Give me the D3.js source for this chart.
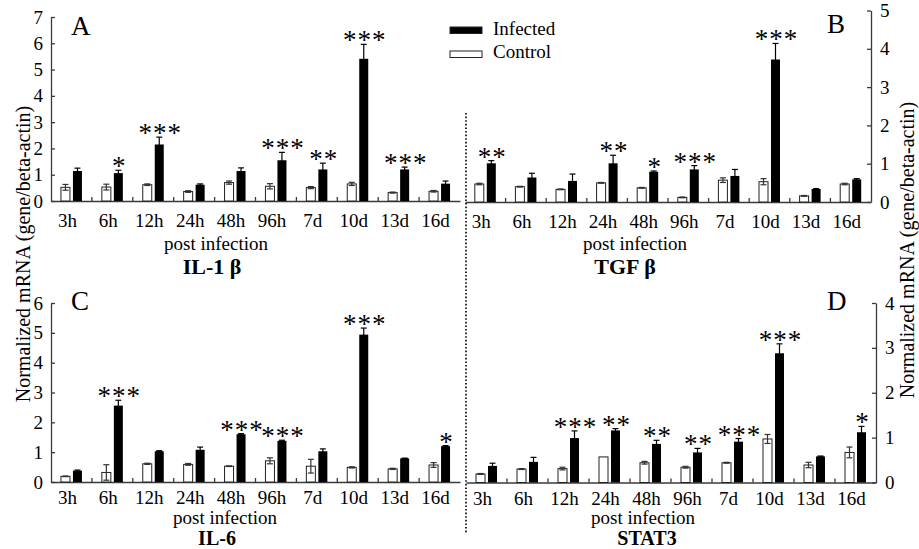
<!DOCTYPE html>
<html><head><meta charset="utf-8">
<script src="https://cdn.jsdelivr.net/npm/d3@7"></script>
<style>
html,body{margin:0;padding:0;background:#fff;}
svg{display:block;}
text{font-family:"Liberation Serif","Times New Roman",serif;fill:#000;}
</style></head>
<body>
<svg id="chart" width="919" height="549"></svg>
<script>
// ---------- DATA ----------
const categories = ["3h","6h","12h","24h","48h","96h","7d","10d","13d","16d"];
const seriesNames = ["Control","Infected"];

const il1bInfected    = [1.14, 1.06, 2.15, 0.62, 1.14, 1.55, 1.20, 5.41, 1.20, 0.66];
const il1bInfectedErr = [0.11, 0.11, 0.28, 0.03, 0.12, 0.30, 0.24, 0.55, 0.09, 0.10];
const il1bControl     = [0.52, 0.53, 0.62, 0.36, 0.70, 0.56, 0.51, 0.65, 0.32, 0.37];
const il1bControlErr  = [0.11, 0.11, 0.03, 0.03, 0.06, 0.10, 0.04, 0.06, 0.02, 0.03];
const il1bStars       = ["", "*", "***", "", "", "***", "**", "***", "***", ""];
const il1bTicks       = [0,1,2,3,4,5,6,7];

const tgfbInfected    = [1.01, 0.64, 0.55, 1.01, 0.79, 0.85, 0.68, 3.72, 0.34, 0.59];
const tgfbInfectedErr = [0.07, 0.11, 0.18, 0.21, 0.02, 0.10, 0.17, 0.42, 0.01, 0.02];
const tgfbControl     = [0.47, 0.40, 0.33, 0.50, 0.37, 0.12, 0.57, 0.53, 0.16, 0.47];
const tgfbControlErr  = [0.02, 0.01, 0.01, 0.01, 0.01, 0.01, 0.06, 0.08, 0.01, 0.02];
const tgfbStars       = ["**", "", "", "**", "*", "***", "", "***", "", ""];
const tgfbTicks       = [0,1,2,3,4,5];

const il6Infected     = [0.38, 2.56, 1.03, 1.08, 1.60, 1.38, 1.03, 4.94, 0.79, 1.20];
const il6InfectedErr  = [0.02, 0.18, 0.02, 0.09, 0.02, 0.02, 0.08, 0.22, 0.01, 0.02];
const il6Control      = [0.19, 0.32, 0.61, 0.59, 0.53, 0.71, 0.53, 0.49, 0.44, 0.57];
const il6ControlErr   = [0.01, 0.26, 0.02, 0.03, 0.01, 0.10, 0.23, 0.02, 0.02, 0.08];
const il6Stars        = ["", "***", "", "", "***", "***", "", "***", "", "*"];
const il6Ticks        = [0,1,2,3,4,5,6];

const stat3Infected    = [0.37, 0.46, 0.99, 1.16, 0.86, 0.67, 0.91, 2.88, 0.58, 1.12];
const stat3InfectedErr = [0.06, 0.10, 0.16, 0.04, 0.08, 0.09, 0.07, 0.21, 0.01, 0.13];
const stat3Control     = [0.19, 0.30, 0.31, 0.57, 0.44, 0.34, 0.44, 0.97, 0.39, 0.67];
const stat3ControlErr  = [0.01, 0.01, 0.03, 0.00, 0.03, 0.02, 0.01, 0.10, 0.06, 0.12];
const stat3Stars       = ["", "", "***", "**", "**", "**", "***", "***", "", "*"];
const stat3Ticks       = [0,1,2,3,4];

const yAxisLabel = "Normalized mRNA (gene/beta-actin)";
const xAxisLabel = "post infection";

// ---------- DRAW ----------
const svg = d3.select("#chart");
const AXIS = "#3a3a3a";
const FONT = 19;

function panel(cfg) {
  const g = svg.append("g");
  const x = d3.scaleBand().domain(categories).range([cfg.x0, cfg.x1]).padding(0);
  const bw = x.bandwidth();
  const sub = d3.scaleBand().domain(seriesNames).range([bw/2 - 10.5, bw/2 + 10.5]).paddingInner(0.25);
  const y = d3.scaleLinear().domain([0, d3.max(cfg.ticks)]).range([cfg.yZero, cfg.yTop]);

  // y axis
  const yAx = (cfg.side === "left" ? d3.axisLeft(y) : d3.axisRight(y))
      .tickValues(cfg.ticks).tickFormat(d3.format("d"))
      .tickSize(-4).tickSizeOuter(0).tickPadding(cfg.side === "left" ? 8 : 9);
  const ya = g.append("g")
     .attr("transform", `translate(${cfg.side === "left" ? cfg.x0 : cfg.x1},0)`)
     .call(yAx);
  ya.selectAll("path,line").attr("stroke", AXIS).attr("stroke-width", 1.3);
  ya.selectAll("text").attr("font-size", FONT).attr("font-family", "Liberation Serif, serif").attr("fill","#000");

  // x axis
  const xAx = d3.axisBottom(x).tickSize(0).tickSizeOuter(0).tickPadding(cfg.xPad);
  const xa = g.append("g").attr("transform", `translate(0,${cfg.yZero})`).call(xAx);
  xa.select("path").attr("stroke", AXIS).attr("stroke-width", 1.3);
  xa.selectAll("text").attr("font-size", FONT).attr("font-family", "Liberation Serif, serif").attr("fill","#000").attr("dx", -4);
  // boundary ticks
  g.append("g").selectAll("line")
    .data(categories.slice(1))
    .join("line")
    .attr("x1", d => x(d)).attr("x2", d => x(d))
    .attr("y1", cfg.yZero).attr("y2", cfg.yZero - 4)
    .attr("stroke", AXIS).attr("stroke-width", 1.3);

  const rows = categories.map((c, i) => ({
    c, i,
    Control: cfg.ctrl[i], ControlErr: cfg.ctrlErr[i],
    Infected: cfg.inf[i], InfectedErr: cfg.infErr[i],
    stars: cfg.stars[i]
  }));

  // control bars
  g.append("g").selectAll("rect").data(rows).join("rect")
    .attr("x", d => x(d.c) + sub("Control"))
    .attr("y", d => y(d.Control))
    .attr("width", sub.bandwidth())
    .attr("height", d => y(0) - y(d.Control))
    .attr("fill", "#fff").attr("stroke", "#222").attr("stroke-width", 1);
  // infected bars
  g.append("g").selectAll("rect").data(rows).join("rect")
    .attr("x", d => x(d.c) + sub("Infected"))
    .attr("y", d => y(d.Infected))
    .attr("width", sub.bandwidth())
    .attr("height", d => y(0) - y(d.Infected))
    .attr("fill", "#000");

  // error bars
  function errBars(key, color) {
    const eg = g.append("g").attr("stroke", color).attr("stroke-width", 1.2).attr("fill", "none");
    rows.forEach(d => {
      const cx = x(d.c) + sub(key) + sub.bandwidth()/2;
      const v = d[key], e = d[key + "Err"];
      if (e <= 0) return;
      const yt = y(v + e), yb = y(Math.max(0, v - e));
      eg.append("line").attr("x1", cx).attr("x2", cx).attr("y1", yb).attr("y2", yt);
      eg.append("line").attr("x1", cx - 3).attr("x2", cx + 3).attr("y1", yt).attr("y2", yt);
      eg.append("line").attr("x1", cx - 3).attr("x2", cx + 3).attr("y1", yb).attr("y2", yb);
    });
  }
  errBars("Control", "#333");
  errBars("Infected", "#000");

  // significance stars
  g.append("g").selectAll("text").data(rows.filter(d => d.stars))
    .join("text")
    .attr("x", d => x(d.c) + sub("Infected") + sub.bandwidth()/2 + 1)
    .attr("y", d => y(d.Infected + d.InfectedErr) + 5)
    .attr("text-anchor", "middle")
    .attr("font-family", "Liberation Sans, Arial, sans-serif")
    .attr("font-size", 27)
    .attr("letter-spacing", 1)
    .text(d => d.stars);

  // panel letter
  g.append("text").attr("x", cfg.letterX).attr("y", cfg.letterY)
    .attr("font-size", 27).text(cfg.letter);

  // x title & gene name
  g.append("text").attr("x", cfg.titleX).attr("y", cfg.yZero + cfg.titleDy)
    .attr("text-anchor", "middle").attr("font-size", FONT).text(xAxisLabel);
  g.append("text").attr("x", cfg.geneX).attr("y", cfg.yZero + cfg.geneDy)
    .attr("text-anchor", "middle").attr("font-size", cfg.geneSize).attr("font-weight", "bold").text(cfg.gene);
}

panel({x0: 51, x1: 460, yZero: 201, yTop: 17, ticks: il1bTicks, side: "left", xPad: 13,
  inf: il1bInfected, infErr: il1bInfectedErr, ctrl: il1bControl, ctrlErr: il1bControlErr, stars: il1bStars,
  letter: "A", letterX: 71, letterY: 35, titleX: 216, titleDy: 49, geneX: 212, geneDy: 73, geneSize: 22, gene: "IL-1 \u03b2"});
panel({x0: 465, x1: 871, yZero: 202, yTop: 10.5, ticks: tgfbTicks, side: "right", xPad: 13,
  inf: tgfbInfected, infErr: tgfbInfectedErr, ctrl: tgfbControl, ctrlErr: tgfbControlErr, stars: tgfbStars,
  letter: "B", letterX: 827, letterY: 33, titleX: 635, titleDy: 48, geneX: 625, geneDy: 72, geneSize: 22, gene: "TGF \u03b2"});
panel({x0: 51, x1: 460, yZero: 482, yTop: 303, ticks: il6Ticks, side: "left", xPad: 9,
  inf: il6Infected, infErr: il6InfectedErr, ctrl: il6Control, ctrlErr: il6ControlErr, stars: il6Stars,
  letter: "C", letterX: 71, letterY: 310, titleX: 225, titleDy: 42, geneX: 217, geneDy: 63, geneSize: 20, gene: "IL-6"});
panel({x0: 466, x1: 876, yZero: 482.5, yTop: 303, ticks: stat3Ticks, side: "right", xPad: 9,
  inf: stat3Infected, infErr: stat3InfectedErr, ctrl: stat3Control, ctrlErr: stat3ControlErr, stars: stat3Stars,
  letter: "D", letterX: 827, letterY: 310, titleX: 643, titleDy: 41.5, geneX: 647, geneDy: 62.5, geneSize: 20, gene: "STAT3"});

// y axis labels
svg.append("text").attr("transform", "translate(30,254) rotate(-90)")
  .attr("text-anchor", "middle").attr("font-size", 20).text(yAxisLabel);
svg.append("text").attr("transform", "translate(914,250) rotate(-90)")
  .attr("text-anchor", "middle").attr("font-size", 20).text(yAxisLabel);

// divider
svg.append("line").attr("x1", 466).attr("x2", 466).attr("y1", 113).attr("y2", 533)
  .attr("stroke", "#000").attr("stroke-width", 1.6).attr("stroke-dasharray", "1.6,2");

// legend
const legend = svg.append("g");
const legendItems = [{name: "Infected", fill: "#000"}, {name: "Control", fill: "#fff"}];
legend.selectAll("rect").data(legendItems).join("rect")
  .attr("x", 450).attr("y", (d, i) => 27 + i * 24).attr("width", 32).attr("height", 6.5)
  .attr("fill", d => d.fill).attr("stroke", "#222").attr("stroke-width", 1);
legend.selectAll("text").data(legendItems).join("text")
  .attr("x", 493).attr("y", (d, i) => 35 + i * 23).attr("font-size", FONT).text(d => d.name);
</script>
</body></html>
